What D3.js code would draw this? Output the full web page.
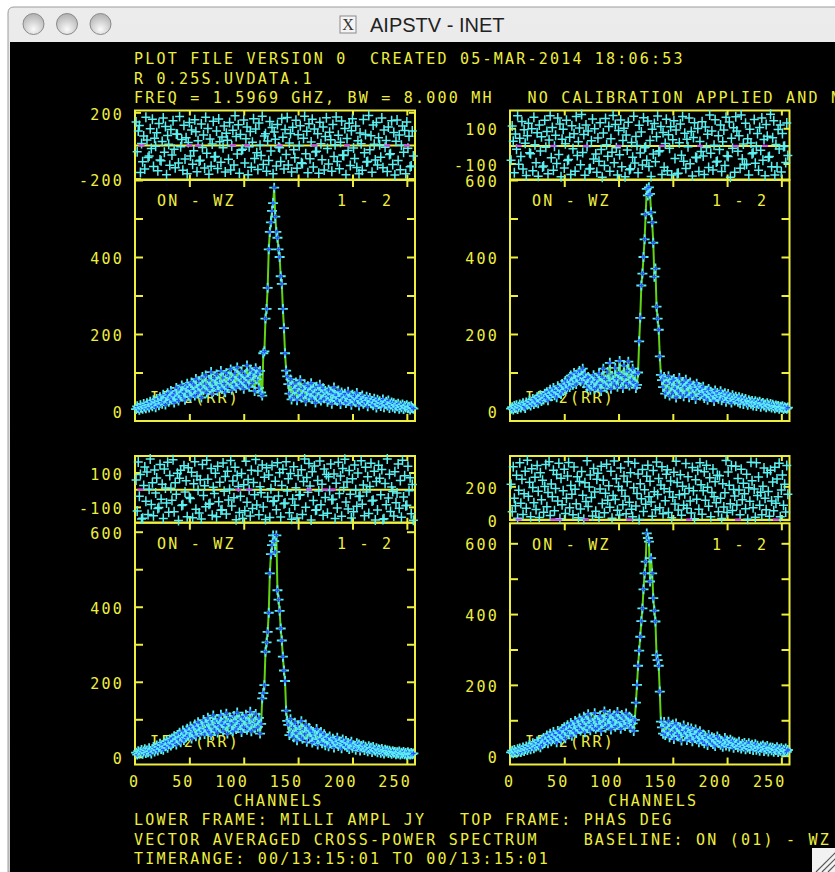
<!DOCTYPE html>
<html>
<head>
<meta charset="utf-8">
<script src="https://cdn.jsdelivr.net/npm/d3@7"></script>
<style>
  html, body { margin: 0; padding: 0; background: #fff; overflow: hidden; }
  svg { display: block; }
  .mono { font-family: "DejaVu Sans Mono", monospace; font-size: 15px; letter-spacing: 2.21px; fill: #eeee3e; white-space: pre; }
</style>
</head>
<body>
<svg id="plot" width="835" height="872"></svg>
<script>
// tick values
const channelTicks = [50, 100, 150, 200, 250];
const channelLabels = [0, 50, 100, 150, 200, 250];
const ampTicks = [0, 100, 200, 300, 400, 500, 600];
const ampLabelsTL = [0, 200, 400];
const ampLabels = [0, 200, 400, 600];
const phaseLabelsTL = [200, -200];
const phaseLabelsTR = [100, -100];
const phaseLabelsBL = [100, -100];
const phaseLabelsBR = [200, 0];

// amplitude (milli Jy) per channel 1..256
const ampTL = [
  5,12,8,3,15,9,6,18,11,7,20,14,9,24,16,12,
  28,18,10,31,22,15,36,25,19,42,28,17,38,46,24,33,
  52,30,41,22,48,60,35,27,55,44,66,38,50,29,62,71,
  45,58,36,74,52,68,40,83,57,47,76,62,35,88,54,70,
  92,48,66,80,58,101,44,73,85,63,95,52,79,68,104,57,
  86,71,49,98,62,90,77,108,55,84,69,97,60,113,75,88,
  66,102,80,58,94,72,118,85,63,107,90,74,99,52,111,82,
  95,60,104,48,40,150,155,240,265,320,420,465,490,520,540,580,
  505,465,450,420,400,350,330,265,215,150,105,90,70,45,82,30,
  66,38,55,74,28,61,47,80,35,58,42,69,25,53,64,37,
  49,72,31,57,44,22,63,50,36,68,27,46,59,33,52,40,
  24,55,38,47,19,44,61,30,41,26,53,35,18,48,39,28,
  45,21,36,50,27,33,16,42,29,38,23,47,31,14,35,26,
  40,19,30,24,37,12,28,34,20,26,15,32,22,9,29,18,
  25,13,21,30,10,19,24,14,27,8,17,22,11,20,7,16,
  12,19,6,14,10,17,5,13,9,15,7,11,4,12,8,6
];
const ampTR = [
  6,10,4,13,8,15,5,11,17,9,14,20,12,8,22,16,
  19,27,14,24,31,18,29,23,36,20,33,41,26,38,30,45,
  35,49,28,43,55,38,47,60,41,53,36,64,48,58,44,70,
  52,66,78,57,71,84,62,92,75,68,99,81,70,95,86,104,
  77,90,110,72,96,84,62,88,71,55,80,66,93,58,76,85,
  64,97,72,52,88,110,68,82,60,101,75,125,58,91,79,70,
  112,84,63,98,130,76,92,60,118,87,72,105,128,66,97,81,
  110,74,95,60,68,100,181,242,326,357,400,446,511,577,560,581,
  564,516,490,437,349,370,271,240,211,142,94,80,62,88,45,72,
  55,90,40,66,78,48,83,59,35,70,52,86,44,63,74,38,
  60,81,47,68,36,74,55,42,66,58,31,71,49,62,40,56,
  45,63,34,52,48,29,57,41,50,36,44,26,53,38,47,32,
  40,51,28,43,36,46,24,38,44,30,35,22,41,33,27,37,
  31,24,36,20,29,33,18,27,31,22,16,28,24,19,26,14,
  21,25,13,22,18,24,11,19,21,14,17,10,20,15,12,18,
  9,16,12,7,14,10,13,6,11,9,12,5,10,8,6,9
];
const ampBL = [
  11,6,15,9,13,18,8,14,20,10,17,12,23,15,9,21,
  26,14,22,30,17,27,35,21,31,19,38,28,42,24,34,46,
  30,49,37,55,42,33,58,47,64,39,53,70,45,61,52,75,
  57,68,81,49,74,63,86,55,78,92,66,59,84,72,98,61,
  88,75,104,67,93,58,82,110,71,96,86,65,101,79,112,90,
  70,97,84,115,62,92,105,77,88,68,109,95,74,118,83,100,
  91,66,107,79,99,112,72,94,85,120,68,101,89,76,114,92,
  80,104,62,88,156,170,191,280,305,333,384,489,540,564,590,575,
  546,590,444,419,389,342,310,267,230,202,123,96,85,58,100,66,
  78,52,91,64,44,82,70,56,95,48,73,61,86,40,67,77,
  50,69,38,62,55,43,74,33,58,47,66,36,52,60,31,49,
  45,28,54,40,35,48,25,43,37,51,29,41,33,23,46,35,
  30,42,26,37,21,34,40,24,31,28,19,36,27,33,17,29,
  25,31,18,27,22,15,28,20,24,13,26,19,16,23,12,20,
  18,11,21,15,9,19,14,17,10,16,12,8,15,11,13,7,
  12,9,14,6,11,8,13,7,10,5,12,8,6,10,7,9
];
const ampBR = [
  9,14,7,16,11,8,18,12,20,10,15,23,13,19,26,16,
  22,30,18,27,35,21,33,26,40,29,37,24,45,32,50,38,
  43,57,35,48,62,41,54,67,46,59,38,70,52,64,44,75,
  58,80,49,69,86,61,74,92,56,83,70,98,64,88,77,105,
  71,94,85,110,66,99,78,117,89,72,104,93,82,120,76,101,
  95,84,112,70,103,90,125,79,97,108,86,118,74,100,92,114,
  82,106,123,88,99,76,115,94,107,84,119,97,89,110,78,104,
  91,70,101,150,200,254,297,336,380,416,470,515,548,628,615,605,
  492,558,515,445,410,379,284,270,254,181,96,80,62,95,58,84,
  70,96,52,79,64,88,47,73,91,60,81,55,76,43,68,85,
  58,72,44,80,63,50,77,41,66,57,74,46,61,38,69,53,
  42,60,35,55,48,30,58,45,39,52,33,49,27,44,54,36,
  47,31,41,25,38,50,29,43,35,26,45,32,40,22,37,30,
  34,24,39,28,20,33,26,36,18,30,23,35,19,27,31,16,
  25,32,17,28,21,14,26,22,29,13,24,18,27,12,20,23,
  15,22,11,19,16,24,10,18,14,21,9,17,13,20,11,16
];

// phase (deg) per channel 1..256
const phTL = [
  142,-37,88,121,-163,12,-98,57,-141,170,33,-72,-64,101,-18,159,
  -126,44,-5,77,-152,133,-88,-92,24,166,-41,115,-177,61,8,-119,
  97,-58,149,-23,-134,70,68,-106,175,-7,36,-149,122,-81,47,-170,
  18,139,-63,94,-113,-31,155,83,-158,29,-94,-89,130,-12,64,-136,
  171,-47,102,-173,39,-125,9,146,-69,-66,87,-139,160,22,-101,51,
  -14,117,-160,74,31,-83,138,-148,-3,92,-118,179,55,-52,125,-167,
  66,-28,-22,153,-106,41,112,-176,-7,84,-131,20,161,-78,99,-44,
  -145,135,2,-60,176,-115,58,71,-156,27,-90,144,-33,108,-171,81,
  38,-124,127,-9,-13,-97,163,49,-142,96,-55,169,-118,15,73,-160,
  110,-26,-74,152,-137,65,-1,119,-104,-108,43,177,-50,86,-164,131,
  -80,21,158,-129,99,-39,-35,71,-168,140,10,-86,111,-147,54,168,
  -18,-112,80,35,-155,127,-66,4,172,-97,62,-140,19,148,-58,-61,
  103,-176,42,-30,134,-120,89,162,-15,-79,117,-133,28,-171,76,11,
  -149,157,-43,67,-100,-96,181,-25,59,-161,124,7,-87,138,-118,46,
  5,-71,166,-134,93,-10,30,-157,112,-54,-50,149,-115,78,-178,26,
  154,-91,63,-146,1,118,-40,91,-170,142,-16,56,-128,-123,87,-63
];
const phTR = [
  -81,113,26,-152,68,-19,171,-104,43,-61,139,-132,91,15,-168,57,
  129,-39,-44,98,-141,163,6,-96,74,-173,118,-29,52,-120,-115,146,
  -8,82,-159,33,171,-67,104,-138,-2,61,-100,158,-49,125,-176,37,
  94,-125,12,145,-83,-78,49,-163,114,-16,69,-144,167,-54,23,101,
  -107,178,-37,65,-167,118,-4,84,-131,-128,29,153,-74,98,-46,-150,
  45,-88,132,-20,-178,73,-112,156,6,-59,110,-144,40,-36,173,-96,
  121,-11,-165,87,-50,147,-119,31,100,-175,62,-24,134,-135,-130,19,
  -64,168,-97,54,2,-153,117,-40,79,-108,160,-10,-6,-82,141,-117,
  30,-174,95,-46,127,-90,52,170,-33,-27,110,-162,76,-122,14,151,
  -141,63,-13,109,-166,35,143,-71,90,-159,-155,18,124,-53,167,-88,
  72,-128,38,-5,158,-101,81,-171,47,131,-65,-68,99,-146,25,-32,
  137,-57,-163,107,-9,66,-123,175,-42,84,-137,4,149,-91,-87,58,
  -21,118,-145,23,90,-111,162,-56,-60,136,-178,43,-14,103,-150,165,
  85,-31,57,-127,175,-74,11,-107,128,-105,41,-166,95,17,-45,-39,
  150,-99,-3,70,-139,104,-25,159,-81,36,-170,121,55,-64,-61,179,
  -118,46,143,-165,8,-120,93,-18,119,-149,71,-4,-2,-94,130,-54
];
const phBL = [
  57,-124,161,-38,89,-171,-166,24,132,-67,103,-145,3,178,-86,41,
  -152,115,-19,68,-110,-104,147,-55,31,-168,120,10,-77,159,-131,83,
  9,-62,174,-129,40,-27,95,-179,66,113,-92,-88,140,-14,52,-157,
  128,-45,-51,101,-163,35,163,-114,79,-3,-136,58,-170,146,-34,23,
  -99,172,61,-84,-80,123,-149,14,-22,96,-158,137,-70,44,-120,-116,
  155,-9,77,-142,107,-60,2,170,-95,50,-47,131,-175,83,18,-133,
  -38,94,-167,29,-123,166,-73,60,-1,-153,113,-110,42,-30,175,-89,
  109,-146,17,-18,143,-101,73,-174,127,-43,86,-162,6,141,-68,-64,
  49,-117,157,-36,99,-159,25,119,-82,-78,162,-7,64,-134,94,-172,
  -54,134,-91,11,-165,82,-33,-29,116,-144,47,178,-102,71,-15,153,
  22,-176,104,-63,138,-119,-116,53,-8,167,-87,31,-148,121,-45,88,
  -137,75,-4,149,-58,-55,92,-168,37,-107,160,-22,80,-154,124,13,
  177,-72,45,-112,112,-26,-164,63,-129,144,-1,-97,97,-40,-36,168,
  -84,28,-151,130,-13,75,-139,19,154,-66,-62,107,-176,48,-118,142,
  66,-30,118,-173,-169,36,-88,179,-49,90,-127,16,-11,-153,105,-76,
  -19,150,-108,54,-160,171,-42,81,-94,-91,137,-6,69,-140,30,-178
];
const phBR = [
  212,47,318,129,84,266,9,177,341,98,243,31,155,290,68,357,
  141,225,18,306,193,102,254,61,325,170,13,282,119,236,44,199,
  331,77,163,348,25,214,137,296,54,187,271,112,339,6,248,90,
  173,302,37,128,262,343,71,205,152,29,316,183,95,258,12,229,
  64,289,147,3,221,109,354,79,196,268,133,22,307,166,51,242,
  279,15,184,321,97,237,42,159,333,116,204,74,291,8,145,352,
  121,246,57,199,28,310,176,89,262,140,35,227,348,104,281,63,
  17,192,338,82,157,274,1,216,125,301,49,179,93,260,326,138,
  231,106,20,295,168,59,346,151,247,72,208,318,36,186,114,273,
  300,43,167,232,11,135,284,94,351,223,58,149,270,27,201,86,
  156,337,69,257,189,112,40,313,173,5,239,123,296,62,342,210,
  33,174,288,117,327,194,80,252,18,163,304,137,227,101,267,48,
  264,129,7,215,76,161,355,43,286,206,96,324,55,181,142,320,
  88,247,178,30,303,120,219,155,66,273,2,191,110,345,233,72,
  184,14,342,145,256,87,165,29,200,310,129,60,282,169,21,297,
  112,226,53,314,99,244,137,339,17,178,268,86,213,46,325,152
];

// channels flagged in magenta along the phase zero line
const flagTL = [6, 50, 58, 90, 103, 133, 165, 195, 232, 250];
const flagTR = [8, 40, 70, 100, 140, 175, 208, 235];
const flagBL = [5, 95, 105, 160, 175, 182];
const flagBR = [8, 40, 45, 70, 110, 165, 210, 245];

const headerLines = [
  "PLOT FILE VERSION 0  CREATED 05-MAR-2014 18:06:53",
  "R 0.25S.UVDATA.1",
  "FREQ = 1.5969 GHZ, BW = 8.000 MH   NO CALIBRATION APPLIED AND N"
];
const footerLines = [
  "LOWER FRAME: MILLI AMPL JY   TOP FRAME: PHAS DEG",
  "VECTOR AVERAGED CROSS-POWER SPECTRUM    BASELINE: ON (01) - WZ",
  "TIMERANGE: 00/13:15:01 TO 00/13:15:01"
];

const yellow = "#eeee3e";
const cyan = "#5cf0f0";
const blue = "#2450ff";
const green = "#62d414";
const magenta = "#e040f0";
const pitch = 11.24;

const svg = d3.select("#plot");

// mono text, x = left ink edge, yc = vertical centre
function monoText(g, str, x, yc) {
  return g.append("text").attr("class", "mono")
    .attr("x", x - 1).attr("y", yc + 5.4).text(str);
}
function monoTextRight(g, str, xr, yc) {
  return monoText(g, str, xr - (str.length - 1) * pitch - 8, yc);
}

// ---- window chrome ----
const defs = svg.append("defs");
const tg = defs.append("linearGradient").attr("id", "titleGrad").attr("x1", 0).attr("y1", 0).attr("x2", 0).attr("y2", 1);
tg.append("stop").attr("offset", 0).attr("stop-color", "#ececec");
tg.append("stop").attr("offset", 1).attr("stop-color", "#cfcfcf");
const bg = defs.append("radialGradient").attr("id", "btnGrad").attr("cx", 0.5).attr("cy", 0.75).attr("r", 0.7);
bg.append("stop").attr("offset", 0).attr("stop-color", "#fafafa");
bg.append("stop").attr("offset", 1).attr("stop-color", "#b4b4b4");

svg.append("rect").attr("width", 835).attr("height", 872).attr("fill", "#fff");
svg.append("path")
  .attr("d", "M8,872V13Q8,7 14,7H840V872Z")
  .attr("fill", "url(#titleGrad)").attr("stroke", "#9c9c9c");
svg.append("rect").attr("x", 10).attr("y", 42).attr("width", 830).attr("height", 840).attr("fill", "#000");

[33.5, 67, 100.5].forEach(cx => {
  svg.append("circle").attr("cx", cx).attr("cy", 24).attr("r", 10.5)
    .attr("fill", "url(#btnGrad)").attr("stroke", "#8a8a8a");
});
svg.append("rect").attr("x", 340).attr("y", 16).attr("width", 16).attr("height", 17)
  .attr("fill", "#f4f4f4").attr("stroke", "#8a8a8a");
svg.append("text").attr("x", 348).attr("y", 30).attr("text-anchor", "middle")
  .attr("font-family", "Liberation Serif").attr("font-size", 16).attr("fill", "#333").text("X");
svg.append("text").attr("x", 370).attr("y", 32)
  .attr("font-family", "Liberation Sans, Arial").attr("font-size", 20).attr("fill", "#222")
  .text("AIPSTV - INET");

// resize grip
svg.append("rect").attr("x", 812).attr("y", 848).attr("width", 30).attr("height", 30).attr("fill", "#f2f2f2");
[0, 6, 12].forEach(d => {
  svg.append("line").attr("x1", 816 + d).attr("y1", 872).attr("x2", 840).attr("y2", 848 + d)
    .attr("stroke", "#555").attr("stroke-width", 1.2);
});

// ---- header / footer text ----
const txt = svg.append("g");
headerLines.forEach((s, i) => monoText(txt, s, 135, 59 + i * 19.5));
footerLines.forEach((s, i) => monoText(txt, s, 135, 820 + i * 19.3));

// ---- panels ----
const panels = [
  { amp: ampTL, phase: phTL, flags: flagTL, left: 135, right: 415, phTop: 110.5, phBot: 179.5, phDomain: [-205, 211],
    phLabels: phaseLabelsTL, ampTop: 180, ampBot: 421, ampDomain: [-26, 600], ampLabels: ampLabelsTL, xAxis: false },
  { amp: ampTR, phase: phTR, flags: flagTR, left: 510, right: 789.5, phTop: 110.5, phBot: 179.5, phDomain: [-191, 201],
    phLabels: phaseLabelsTR, ampTop: 180, ampBot: 421, ampDomain: [-26, 600], ampLabels: ampLabels, xAxis: false },
  { amp: ampBL, phase: phBL, flags: flagBL, left: 135, right: 415, phTop: 456, phBot: 522.7, phDomain: [-192, 196],
    phLabels: phaseLabelsBL, ampTop: 522.7, ampBot: 764.5, ampDomain: [-20.5, 624], ampLabels: ampLabels, xAxis: true },
  { amp: ampBR, phase: phBR, flags: flagBR, left: 510, right: 789.5, phTop: 456, phBot: 520, phDomain: [-2, 382],
    phLabels: phaseLabelsBR, ampTop: 523.3, ampBot: 764.5, ampDomain: [-25, 656.5], ampLabels: ampLabels, xAxis: true }
];

function tickAxis(g, axis, transform) {
  const a = g.append("g").attr("transform", transform).call(axis);
  a.select(".domain").remove();
  a.selectAll(".tick line").attr("stroke", yellow).attr("stroke-width", 2);
  a.selectAll(".tick text").remove();
}

function plusPath(s) {
  return `M${-s},0H${s}M0,${-s}V${s}`;
}

panels.forEach(p => {
  const g = svg.append("g");
  const x = d3.scaleLinear().domain([0, 257.5]).range([p.left, p.right]);
  const yPh = d3.scaleLinear().domain(p.phDomain).range([p.phBot, p.phTop]);
  const yAmp = d3.scaleLinear().domain(p.ampDomain).range([p.ampBot, p.ampTop]);
  const w = p.right - p.left;

  // frames
  g.append("rect").attr("x", p.left).attr("y", p.phTop).attr("width", w).attr("height", p.phBot - p.phTop)
    .attr("fill", "none").attr("stroke", yellow).attr("stroke-width", 2);
  g.append("rect").attr("x", p.left).attr("y", p.ampTop).attr("width", w).attr("height", p.ampBot - p.ampTop)
    .attr("fill", "none").attr("stroke", yellow).attr("stroke-width", 2);

  // ticks
  tickAxis(g, d3.axisTop(x).tickValues(channelTicks).tickSize(-5), `translate(0,${p.phTop})`);
  tickAxis(g, d3.axisBottom(x).tickValues(channelTicks).tickSize(-5), `translate(0,${p.phBot})`);
  tickAxis(g, d3.axisTop(x).tickValues(channelTicks).tickSize(-7), `translate(0,${p.ampTop})`);
  tickAxis(g, d3.axisBottom(x).tickValues(channelTicks).tickSize(-7), `translate(0,${p.ampBot})`);
  tickAxis(g, d3.axisLeft(yPh).tickValues(p.phLabels).tickSize(-6), `translate(${p.left},0)`);
  tickAxis(g, d3.axisRight(yPh).tickValues(p.phLabels).tickSize(-6), `translate(${p.right},0)`);
  tickAxis(g, d3.axisLeft(yAmp).tickValues(ampTicks).tickSize(-8), `translate(${p.left},0)`);
  tickAxis(g, d3.axisRight(yAmp).tickValues(ampTicks).tickSize(-8), `translate(${p.right},0)`);

  // phase zero line
  g.append("line").attr("x1", p.left).attr("x2", p.right)
    .attr("y1", yPh(0)).attr("y2", yPh(0)).attr("stroke", yellow).attr("stroke-width", 2);

  // y labels
  p.phLabels.forEach(v => monoTextRight(g, String(v), p.left - 13.3, yPh(v) + 1.8));
  p.ampLabels.forEach(v => monoTextRight(g, String(v), p.left - 13.3, yAmp(v) + 1.5));

  // panel labels
  monoText(g, "ON - WZ", p.left + 23, p.ampTop + 21);
  monoText(g, "1 - 2", p.left + 203, p.ampTop + 21);
  monoText(g, "IF 2(RR)", p.left + 16, p.ampBot - 23);

  if (p.xAxis) {
    channelLabels.forEach(v => monoTextRight(g, String(v), x(v) + 3, 781.5));
    monoText(g, "CHANNELS", (p.left + p.right) / 2 - 40.5, 801);
  }

  // phase points
  g.append("g").selectAll("path").data(p.phase).enter().append("path")
    .attr("transform", (d, i) => `translate(${x(i + 1)},${yPh(d)})`)
    .attr("d", "M-4.5,0H4.5M0,-5V5")
    .attr("stroke", cyan).attr("stroke-width", 1.5);

  // flagged marks on the zero line
  g.append("g").selectAll("line").data(p.flags).enter().append("line")
    .attr("x1", d => x(d) - 3).attr("x2", d => x(d) + 3)
    .attr("y1", yPh(0)).attr("y2", yPh(0))
    .attr("stroke", magenta).attr("stroke-width", 2);

  // amplitude line + points
  const line = d3.line().x((d, i) => x(i + 1)).y(d => yAmp(d));
  g.append("path").datum(p.amp).attr("d", line)
    .attr("fill", "none").attr("stroke", green).attr("stroke-width", 2);
  const pts = g.append("g").selectAll("g").data(p.amp).enter().append("g")
    .attr("transform", (d, i) => `translate(${x(i + 1)},${yAmp(d)})`);
  pts.append("path").attr("d", plusPath(5)).attr("stroke", cyan).attr("stroke-width", 1.8);
  pts.append("path").attr("d", plusPath(2.3)).attr("stroke", blue).attr("stroke-width", 1.3);
});
</script>
</body>
</html>
